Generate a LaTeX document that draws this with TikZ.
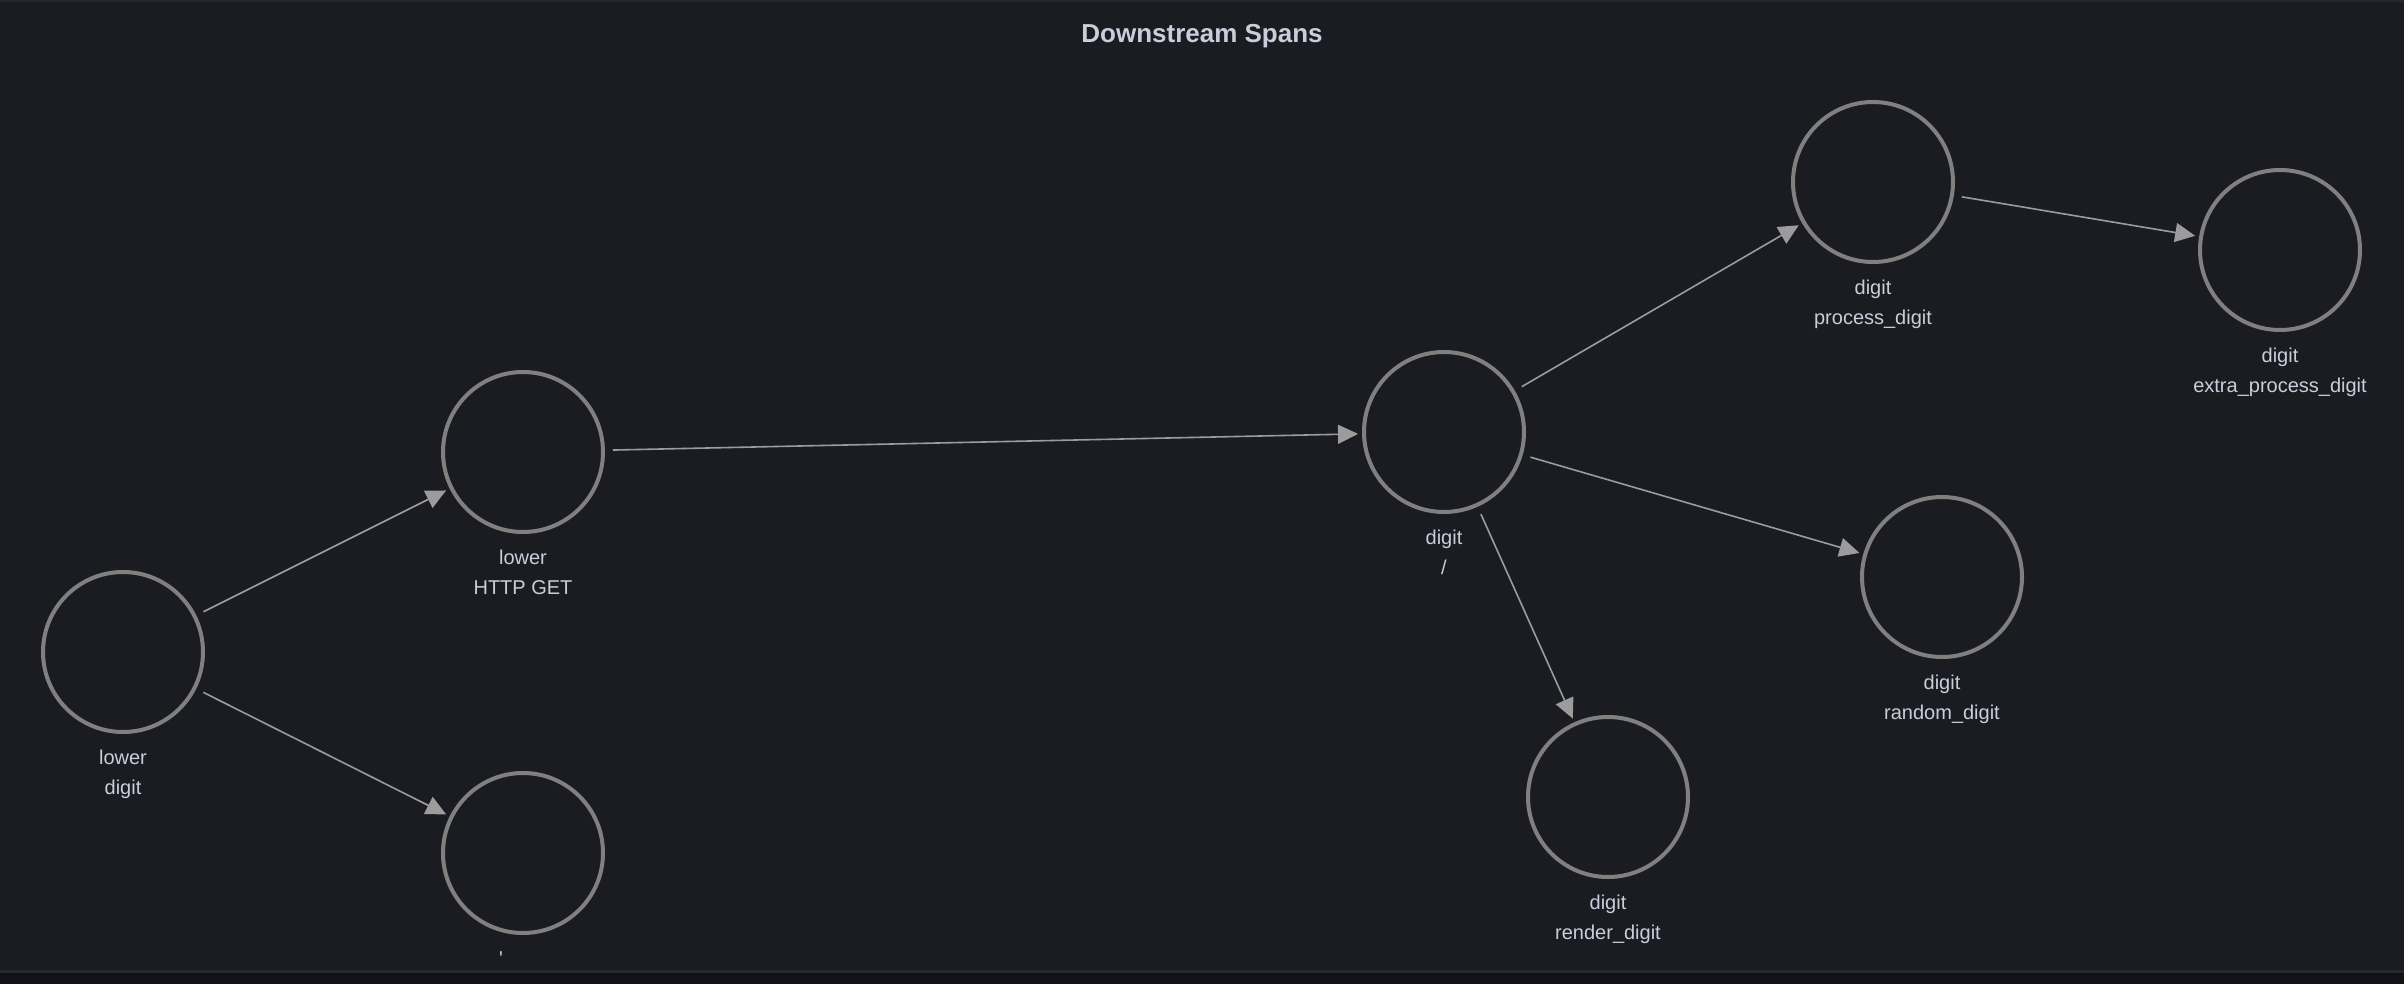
\documentclass[tikz,border=0pt]{standalone}
\usepackage{fontspec}
\setmainfont{Liberation Sans}
\usetikzlibrary{arrows.meta}
\definecolor{bg}{HTML}{1B1C21}
\definecolor{canvas}{HTML}{111217}
\definecolor{border}{HTML}{27282D}
\definecolor{ring}{HTML}{808080}
\definecolor{edgecol}{HTML}{9C9C9C}
\definecolor{txt}{HTML}{CCCCDC}
\begin{document}
\begin{tikzpicture}[x=0.5pt,y=-0.5pt,
  span/.style={circle, draw=ring, line width=2pt, minimum size=80pt, inner sep=0pt, outer sep=0pt},
  lbl/.style={anchor=base, text=txt, font=\fontsize{10pt}{12pt}\selectfont, inner sep=0pt},
  ttl/.style={anchor=base, text=txt, font=\fontsize{13pt}{15pt}\selectfont\bfseries, inner sep=0pt},
  edge/.style={draw=edgecol, line width=0.8pt, -{Triangle[length=10pt,width=9.5pt]}, shorten <=5pt, shorten >=3pt}]
% background and frame
\fill[bg] (0,0) rectangle (2404,984);
\useasboundingbox (0,0) rectangle (2404,984);
\fill[border] (0,0) rectangle (2404,2);
\fill[border] (0,970) rectangle (2404,973);
\fill[canvas] (0,973) rectangle (2404,984);
% title
\node[ttl] (title) at (1202,43) {Downstream Spans};
% span nodes
\node[span] (n1) at (123,652) {};
\node[span] (n2) at (523,452) {};
\node[span] (n3) at (523,853) {};
\node[span] (n4) at (1444,432) {};
\node[span] (n5) at (1873,182) {};
\node[span] (n6) at (2280,250) {};
\node[span] (n7) at (1942,577) {};
\node[span] (n8) at (1608,797) {};
% labels
\node[lbl] (n1a) at (123,764) {lower};
\node[lbl] (n1b) at (123,794) {digit};
\node[lbl] (n2a) at (523,564) {lower};
\node[lbl] (n2b) at (523,594) {HTTP GET};
\node[lbl] (n3a) at (501,965) {\textquotesingle};
\node[lbl] (n4a) at (1444,544) {digit};
\node[lbl] (n4b) at (1444,574) {/};
\node[lbl] (n5a) at (1873,294) {digit};
\node[lbl] (n5b) at (1873,324) {process\_digit};
\node[lbl] (n6a) at (2280,362) {digit};
\node[lbl] (n6b) at (2280,392) {extra\_process\_digit};
\node[lbl] (n7a) at (1942,689) {digit};
\node[lbl] (n7b) at (1942,719) {random\_digit};
\node[lbl] (n8a) at (1608,909) {digit};
\node[lbl] (n8b) at (1608,939) {render\_digit};
% edges
\draw[edge] (n1) -- (n2);
\draw[edge] (n1) -- (n3);
\draw[edge] (n2) -- (n4);
\draw[edge] (n4) -- (n5);
\draw[edge] (n5) -- (n6);
\draw[edge] (n4) -- (n7);
\draw[edge] (n4) -- (n8);
\end{tikzpicture}
\end{document}
